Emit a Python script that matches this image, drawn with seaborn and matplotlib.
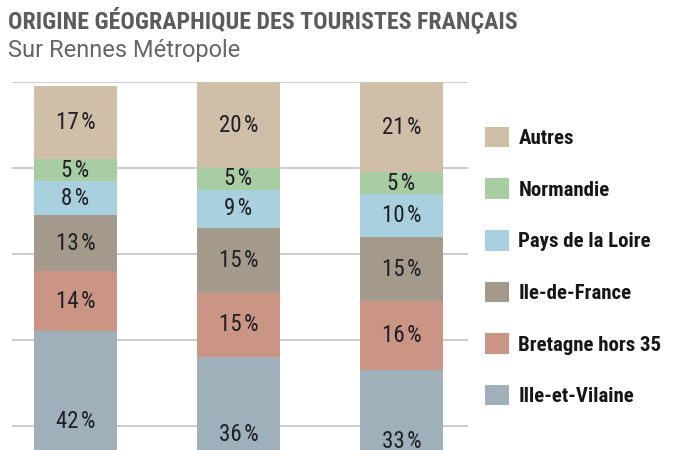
import matplotlib
matplotlib.use("Agg")
import matplotlib.pyplot as plt
from matplotlib.patches import Patch
import seaborn as sns
import pandas as pd

sns.set_theme(style="white")
plt.rcParams['font.family'] = ['Roboto Condensed', 'DejaVu Sans']

periods = ["Période 1", "Période 2", "Période 3"]
categories = ["Ille-et-Vilaine", "Bretagne hors 35", "Ile-de-France",
              "Pays de la Loire", "Normandie", "Autres"]
ille_et_vilaine = [42, 36, 33]
bretagne = [14, 15, 16]
ile_de_france = [13, 15, 15]
pays_loire = [8, 9, 10]
normandie = [5, 5, 5]
autres = [17, 20, 21]
colors = ["#9fb0ba", "#cb9585", "#a39a8c", "#a9d0de", "#a9cda3", "#cfbea8"]

series = [ille_et_vilaine, bretagne, ile_de_france, pays_loire, normandie, autres]
df = pd.DataFrame({c: s for c, s in zip(categories, series)}, index=periods)
cum = df.cumsum(axis=1)

fig = plt.figure(figsize=(7, 4.5), dpi=100)
ax = fig.add_axes([12/700, -62/450, 456/700, 430/450])

# draw from top layer down so lower layers overlay
for cat, col in reversed(list(zip(categories, colors))):
    sns.barplot(x=periods, y=cum[cat].values, color=col, width=0.51,
                saturation=1, ax=ax, zorder=2, edgecolor="none")

# labels
for i, p in enumerate(periods):
    base = 0
    for cat in categories:
        v = df.loc[p, cat]
        ax.text(i, base + v / 2, f"{v}\u200a%", ha="center", va="center",
                fontsize=16.5, color="#1e1e24", zorder=3,
                family=['Roboto Condensed', 'DejaVu Sans'])
        base += v

ax.set_ylim(0, 100)
ax.set_xlim(-0.39, 2.408)
ax.set_yticks([0, 20, 40, 60, 80, 100])
ax.yaxis.grid(True, color="#c8c8c8", linewidth=1.3, zorder=0)
ax.set_axisbelow(True)
ax.tick_params(left=False, bottom=False, labelleft=False, labelbottom=False)
for s in ax.spines.values():
    s.set_visible(False)
ax.set_xlabel("")
ax.set_ylabel("")

handles = [Patch(facecolor=c, edgecolor="none") for c in reversed(colors)]
leg = fig.legend(handles, list(reversed(categories)), loc="upper left",
                 bbox_to_anchor=(466/700, 1 - 108/450), frameon=False,
                 prop={"weight": "bold", "size": 15}, handlelength=1.15,
                 handleheight=1.15, labelspacing=1.45, handletextpad=0.46)
for t in leg.get_texts():
    t.set_color("#161616")

fig.text(8/700, 1 - 29/450, "ORIGINE GÉOGRAPHIQUE DES TOURISTES FRANÇAIS",
         fontsize=17.2, fontweight="bold", color="#5c5c5c", ha="left", va="baseline")
fig.text(8/700, 1 - 57/450, "Sur Rennes Métropole", family="Roboto",
         fontsize=17, color="#666666", ha="left", va="baseline")

fig.savefig("out.png", dpi=100, facecolor="white")
